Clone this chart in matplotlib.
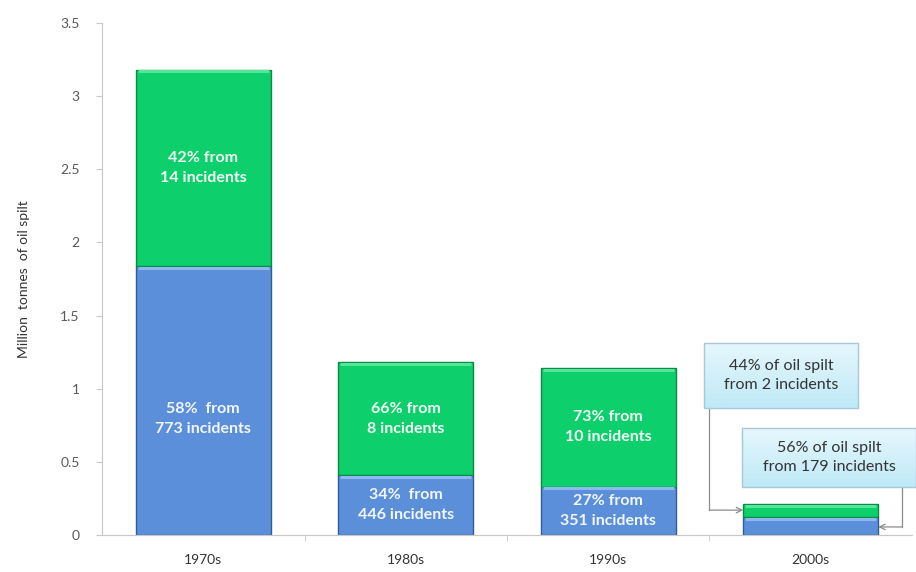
import matplotlib
matplotlib.use("Agg")
import matplotlib.pyplot as plt
import numpy as np
from matplotlib.patches import Rectangle
from matplotlib.colors import LinearSegmentedColormap

# ---- data ----
decades = ["1970s", "1980s", "1990s", "2000s"]
small_spills = [1.84, 0.41, 0.33, 0.12]   # blue (many small incidents)
large_spills = [1.34, 0.77, 0.81, 0.09]   # green (few large incidents)
blue_labels = ["58%  from\n773 incidents", "34%  from\n446 incidents", "27% from\n351 incidents", None]
green_labels = ["42% from\n14 incidents", "66% from\n8 incidents", "73% from\n10 incidents", None]
callout_green = "44% of oil spilt\nfrom 2 incidents"
callout_blue = "56% of oil spilt\nfrom 179 incidents"
yticks = [0, 0.5, 1, 1.5, 2, 2.5, 3, 3.5]
ytick_labels = ["0", "0.5", "1", "1.5", "2", "2.5", "3", "3.5"]
blue_label_frac = [0.43, 0.5, 0.5, 0.5]

plt.rcParams['font.family'] = ['Lato', 'DejaVu Sans']

fig = plt.figure(figsize=(9.16, 5.72), dpi=100)
ax = fig.add_axes([0.1114, 0.0647, 0.8842, 0.8953])

x = np.arange(len(decades))
w = 0.667
blue = "#5b8fd9"
green = "#0dcf6c"

ax.bar(x, small_spills, w, color=blue, edgecolor="#2f5d9a", linewidth=1.0, zorder=2)
ax.bar(x, large_spills, w, bottom=small_spills, color=green, edgecolor="#0a8a45",
       linewidth=1.0, zorder=2)

# light highlight at top of each segment
for i in range(len(decades)):
    for bottom, h, col in [(0, small_spills[i], "#8fb8f0"), (small_spills[i], large_spills[i], "#55e69a")]:
        top = bottom + h
        ax.plot([x[i] - w / 2 + 0.01, x[i] + w / 2 - 0.01], [top - 0.012, top - 0.012],
                color=col, lw=2.2, zorder=3, solid_capstyle="butt")

# labels inside bars
for i in range(len(decades)):
    if blue_labels[i]:
        ax.text(x[i], small_spills[i] * blue_label_frac[i], blue_labels[i], ha="center", va="center",
                color="#f2f7ff", fontsize=11.5, fontweight="bold", linespacing=1.55, zorder=4)
    if green_labels[i]:
        ax.text(x[i], small_spills[i] + large_spills[i] / 2, green_labels[i], ha="center", va="center",
                color="#f2fff6", fontsize=11.5, fontweight="bold", linespacing=1.55, zorder=4)

ax.set_xticks(x)
ax.set_xticklabels(decades, fontsize=10, color="#333333")
ax.set_xticks([0.5, 1.5, 2.5], minor=True)
ax.tick_params(axis="x", which="major", length=0, pad=14)
ax.tick_params(axis="x", which="minor", length=4, color="#c8c8c8", direction="out")
ax.set_yticks(yticks)
ax.set_yticklabels(ytick_labels, fontsize=10, color="#595959")
ax.tick_params(axis="y", length=4, color="#c8c8c8", direction="out", pad=12)
for s in ["top", "right"]:
    ax.spines[s].set_visible(False)
ax.spines["left"].set_color("#c8c8c8")
ax.spines["bottom"].set_color("#c8c8c8")
ax.set_ylabel("Million  tonnes  of oil spilt", fontsize=10, color="#333333", labelpad=22)

# callout boxes
grad = np.linspace(0, 1, 64).reshape(-1, 1)
cmap = LinearSegmentedColormap.from_list("cb", ["#bfe9f7", "#e6f7fd"])

def callout(x0, x1, y0, y1, text):
    ax.imshow(grad, extent=[x0, x1, y0, y1], cmap=cmap, aspect="auto", origin="lower",
              zorder=5, clip_on=False)
    ax.add_patch(Rectangle((x0, y0), x1 - x0, y1 - y0, fill=False, edgecolor="#a8c8d8",
                           lw=1.0, zorder=6, clip_on=False))
    ax.text((x0 + x1) / 2, (y0 + y1) / 2, text, ha="center", va="center", fontsize=11.5,
            color="#333333", linespacing=1.5, zorder=7, clip_on=False)

callout(2.473, 3.233, 0.868, 1.312, callout_green)
callout(2.66, 3.52, 0.328, 0.731, callout_blue)
ax.set_xlim(-0.5, 3.5)
ax.set_ylim(0, 3.5)

# connectors
arrow_kw = dict(arrowstyle="->", color="#8c8c8c", lw=0.9, shrinkA=0, shrinkB=0)
ax.plot([2.50, 2.50], [0.868, 0.17], color="#8c8c8c", lw=0.9, zorder=4)
ax.annotate("", xy=(x[3] - w / 2, 0.17), xytext=(2.50, 0.17), arrowprops=arrow_kw, zorder=4)
ax.plot([3.45, 3.45], [0.328, 0.055], color="#8c8c8c", lw=0.9, zorder=4, clip_on=False)
ax.annotate("", xy=(x[3] + w / 2, 0.055), xytext=(3.45, 0.055), arrowprops=arrow_kw, zorder=4)

fig.savefig("out.png", dpi=100)
